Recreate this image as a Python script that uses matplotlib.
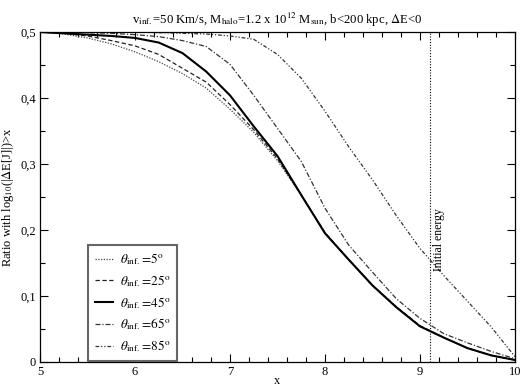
import matplotlib
matplotlib.use("Agg")
import matplotlib.pyplot as plt
from matplotlib.ticker import MultipleLocator, FuncFormatter

plt.rcParams['font.family'] = ['Liberation Serif', 'DejaVu Serif']
plt.rcParams['mathtext.fontset'] = 'stix'
plt.rcParams['font.size'] = 8.5

x = [5.0, 5.25, 5.5, 5.75, 6.0, 6.25, 6.5, 6.75, 7.0, 7.25, 7.5,
     7.75, 8.0, 8.25, 8.5, 8.75, 9.0, 9.25, 9.5, 9.75, 10.0]

theta5 = [0.500, 0.497, 0.491, 0.482, 0.470, 0.455, 0.437, 0.415, 0.383, 0.348, 0.305,
          0.253, 0.196, 0.155, 0.116, 0.083, 0.054, 0.037, 0.021, 0.010, 0.003]
theta25 = [0.500, 0.498, 0.494, 0.487, 0.479, 0.466, 0.445, 0.424, 0.390, 0.352, 0.308,
           0.253, 0.196, 0.155, 0.116, 0.084, 0.055, 0.037, 0.021, 0.010, 0.003]
theta45 = [0.500, 0.498, 0.496, 0.494, 0.491, 0.484, 0.468, 0.440, 0.404, 0.357, 0.312,
           0.253, 0.195, 0.155, 0.116, 0.083, 0.054, 0.037, 0.021, 0.010, 0.003]
theta65 = [0.500, 0.500, 0.499, 0.498, 0.496, 0.493, 0.487, 0.478, 0.451, 0.404, 0.354,
           0.304, 0.233, 0.177, 0.136, 0.096, 0.066, 0.043, 0.029, 0.016, 0.005]
theta85 = [0.500, 0.500, 0.500, 0.500, 0.500, 0.499, 0.498, 0.497, 0.494, 0.489, 0.466,
           0.430, 0.380, 0.326, 0.276, 0.222, 0.172, 0.131, 0.092, 0.053, 0.008]

labels = [r'$\theta_{\rm inf.}\!=\!5^{\rm o}$', r'$\theta_{\rm inf.}\!=\!25^{\rm o}$',
          r'$\theta_{\rm inf.}\!=\!45^{\rm o}$', r'$\theta_{\rm inf.}\!=\!65^{\rm o}$',
          r'$\theta_{\rm inf.}\!=\!85^{\rm o}$']
initial_energy_x = 9.1

fig = plt.figure(figsize=(5.21, 3.87), dpi=100)
ax = fig.add_axes([40/521, 25/387, 475/521, 330/387])

ax.plot(x, theta5, color='#444444', lw=0.9, linestyle=(0, (1, 1.2)), label=labels[0])
ax.plot(x, theta25, color='#222222', lw=0.9, linestyle=(0, (3.5, 2)), label=labels[1])
ax.plot(x, theta45, color='black', lw=1.5, linestyle='-', label=labels[2])
ax.plot(x, theta65, color='#333333', lw=0.9, linestyle=(0, (4, 1.5, 1, 1.5)), label=labels[3])
ax.plot(x, theta85, color='#333333', lw=0.9, linestyle=(0, (3, 1.5, 1, 1.5, 1, 1.5)), label=labels[4])

ax.axvline(initial_energy_x, color='black', lw=0.8, linestyle=(0, (1, 1.5)))
ax.text(initial_energy_x + 0.035, 0.185, 'Initial energy', rotation=90,
        ha='left', va='center', fontsize=8.5)

ax.set_xlim(5, 10)
ax.set_ylim(0, 0.5)
ax.xaxis.set_major_locator(MultipleLocator(1))
ax.xaxis.set_minor_locator(MultipleLocator(0.2))
ax.yaxis.set_major_locator(MultipleLocator(0.1))
ax.yaxis.set_minor_locator(MultipleLocator(0.05))

def yfmt(v, pos):
    if abs(v) < 1e-9:
        return '0'
    return ('%.1f' % v).replace('.', ',')

ax.yaxis.set_major_formatter(FuncFormatter(yfmt))
ax.xaxis.set_major_formatter(FuncFormatter(lambda v, p: '%d' % round(v)))
ax.tick_params(which='both', direction='in', top=True, right=True, labelsize=9, pad=3)
ax.tick_params(which='major', length=6, width=0.8)
ax.tick_params(which='minor', length=3.5, width=0.8)
for s in ax.spines.values():
    s.set_linewidth(0.9)

ax.set_xlabel('x', fontsize=9, labelpad=-2)
ax.set_ylabel(r'Ratio with log$_{10}$(|$\Delta$E[J]|)>x', fontsize=9, labelpad=3)
ax.set_title(r'v$_{\rm inf.}$=50 Km/s, M$_{\rm halo}$=1.2 x 10$^{12}$ M$_{\rm sun}$, b<200 kpc, $\Delta$E<0',
             fontsize=9.2, pad=6)

leg = ax.legend(loc='lower left', bbox_to_anchor=(0.101, 0.004), borderaxespad=0,
                fancybox=False, framealpha=1, edgecolor='#666666', fontsize=9.5,
                handlelength=1.4, labelspacing=0.45, borderpad=0.5, handletextpad=0.5)
leg.get_frame().set_linewidth(1.5)

fig.savefig('out.png', dpi=100)
